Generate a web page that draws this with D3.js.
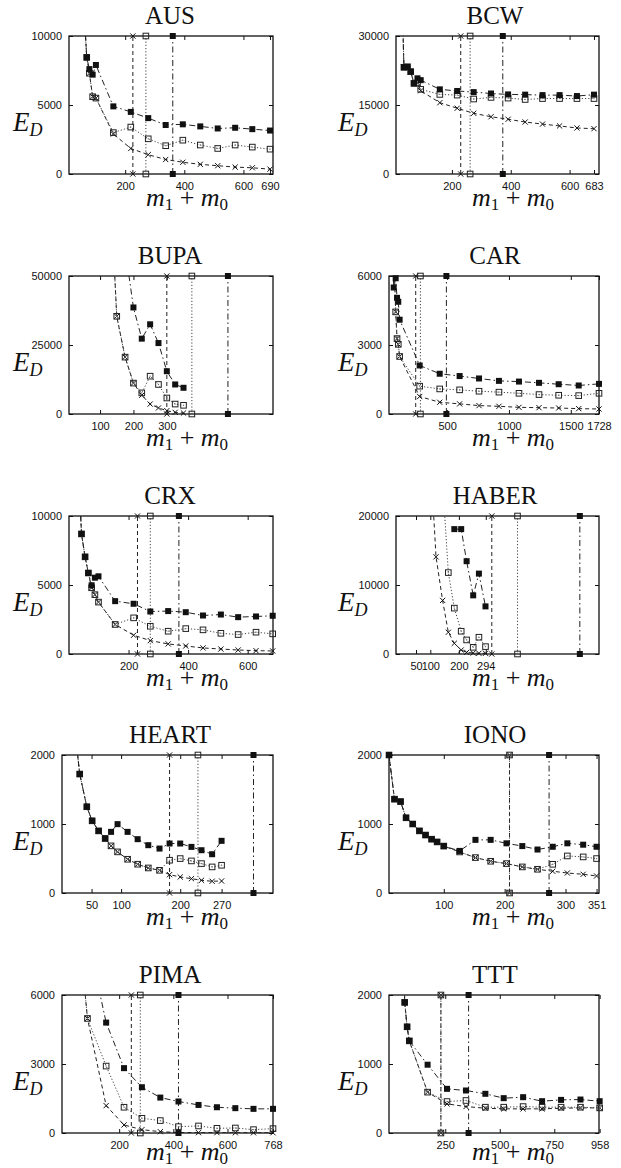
<!DOCTYPE html>
<html>
<head>
<meta charset="utf-8">
<script src="https://cdn.jsdelivr.net/npm/d3@7/dist/d3.min.js"></script>
<style>
  body { margin: 0; background: #fff; }
  .tick text { font-family: "Liberation Sans", Arial, sans-serif; font-size: 11px; fill: #111; }
  .title { font-family: "Liberation Serif", "Times New Roman", serif; font-size: 25px; fill: #111; }
  .mathlbl { font-family: "Liberation Serif", "Times New Roman", serif; fill: #111; }
</style>
</head>
<body>
<svg id="chart" width="621" height="1168"></svg>
<script>
// ---- data (m1+m0 on x, E_D on y); null = no point for that series
// cuts = [cross, open, filled] vertical line positions

const ausX      = [55, 70, 79, 90, 101, 160, 219, 278, 337, 395, 454, 513, 572, 630, 690];
const ausFilled = [14000, 8450, 7600, 7200, 7900, 4900, 4500, 4050, 3550, 3600, 3450, 3300, 3350, 3250, 3150];
const ausOpen   = [14000, 8450, 7300, 5600, 5500, 3000, 3400, 2550, 2050, 2450, 2100, 1850, 2100, 1950, 1800];
const ausCross  = [14000, 8450, 7300, 5600, 5500, 2900, 1850, 1400, 1050, 850, 700, 600, 500, 450, 350];
const ausCuts   = [226, 270, 361];
const ausXTicks = [200, 400, 600, 690];

const bcwX      = [30, 37, 49, 60, 71, 83, 94, 159, 218, 274, 333, 391, 449, 508, 566, 625, 683];
const bcwFilled = [40000, 23200, 23300, 22250, 19700, 20800, 20400, 18400, 18050, 17800, 17500, 17300, 17250, 17150, 17150, 16950, 17250];
const bcwOpen   = [40000, 23200, 23300, 22250, 19700, 19800, 18400, 17300, 17150, 16300, 16650, 16500, 16200, 16400, 16400, 16400, 16400];
const bcwCross  = [40000, 23200, 23300, 22250, 19700, 19800, 18100, 15500, 14300, 13200, 12450, 11900, 11300, 10850, 10450, 10000, 9850];
const bcwCuts   = [230, 262, 373];
const bcwXTicks = [200, 400, 600, 683];

const bupaX      = [140, 150, 175, 200, 225, 250, 275, 300, 325, 350];
const bupaFilled = [null, null, 60000, 38600, 27300, 32500, 25700, 15500, 10700, 9500];
const bupaOpen   = [60000, 35400, 20600, 11200, 7650, 13700, 10700, 5800, 3600, 3150];
const bupaCross  = [60000, 35400, 20600, 11200, 6800, 3600, 2200, 1200, 600, 360];
const bupaCuts   = [300, 375, 483];
const bupaXTicks = [100, 200, 300];

const carX      = [60, 68, 84, 95, 105, 116, 278, 440, 601, 758, 919, 1081, 1243, 1402, 1564, 1728];
const carFilled = [7000, 5500, 5900, 5050, 4880, 4100, 2110, 1750, 1650, 1545, 1440, 1410, 1355, 1295, 1240, 1310];
const carOpen   = [null, 7000, 4440, 3280, 3030, 2500, 1210, 1090, 1050, 990, 950, 900, 845, 815, 800, 900];
const carCross  = [null, 7000, 4440, 3280, 3030, 2500, 760, 510, 440, 365, 335, 290, 275, 260, 233, 218];
const carCuts   = [246, 284, 494];
const carXTicks = [500, 1000, 1500, 1728];

const crxX      = [35, 42, 54, 65, 76, 87, 99, 155, 217, 273, 333, 392, 450, 510, 568, 628, 684];
const crxFilled = [12000, 8700, 7040, 5870, 4980, 5530, 5630, 3830, 3640, 3080, 3110, 3030, 2790, 2860, 2670, 2720, 2770];
const crxOpen   = [12000, 8700, 7040, 5870, 4800, 4300, 3760, 2140, 2620, 2010, 1650, 1840, 1750, 1500, 1410, 1580, 1460];
const crxCross  = [12000, 8700, 7040, 5870, 4800, 4300, 3760, 2140, 1360, 970, 730, 580, 440, 360, 290, 240, 220];
const crxCuts   = [230, 273, 369];
const crxXTicks = [200, 400, 600];

const haberX      = [105, 120, 143, 163, 184, 208, 227, 250, 270, 293];
const haberFilled = [null, null, null, null, 18100, 18100, 13450, 8500, 11650, 6900];
const haberOpen   = [null, null, 25000, 11800, 6650, 3300, 2040, 970, 2430, 1070];
const haberCross  = [25000, 14080, 7770, 3150, 1550, 580, 240, 150, 100, 100];
const haberCuts   = [315, 405, 623];
const haberXTicks = [50, 100, 200, 294];

const heartX      = [20, 30, 42, 51, 62, 73, 83, 94, 111, 128, 146, 165, 182, 200, 219, 236, 254, 270];
const heartFilled = [2500, 1724, 1250, 1046, 900, 790, 886, 998, 886, 780, 693, 644, 717, 717, 668, 620, 562, 756];
const heartOpen   = [2500, 1724, 1250, 1046, 900, 790, 683, 596, 489, 417, 363, 329, 475, 499, 465, 426, 378, 402];
const heartCross  = [2500, 1724, 1250, 1046, 900, 790, 683, 596, 489, 417, 363, 329, 266, 232, 208, 184, 170, 174];
const heartCuts   = [182, 230, 324];
const heartXTicks = [50, 100, 200, 270];

const ionoX      = [10, 19, 29, 38, 49, 60, 70, 80, 89, 100, 126, 152, 177, 203, 229, 254, 279, 303, 329, 351];
const ionoFilled = [2000, 1360, 1325, 1090, 1000, 900, 840, 780, 740, 680, 610, 770, 770, 720, 680, 630, 670, 720, 700, 670];
const ionoOpen   = [2000, 1360, 1325, 1090, 1000, 900, 840, 780, 740, 680, 595, 513, 460, 426, 378, 344, 416, 537, 523, 499];
const ionoCross  = [2000, 1360, 1325, 1090, 1000, 900, 840, 780, 740, 680, 595, 513, 460, 426, 378, 344, 315, 290, 271, 247];
const ionoCuts   = [208, 208, 273];
const ionoXTicks = [100, 200, 300, 351];

const pimaX      = [70, 83, 152, 218, 284, 352, 419, 493, 561, 629, 696, 768];
const pimaFilled = [null, 8560, 4800, 2820, 1990, 1540, 1370, 1220, 1120, 1080, 1050, 1050];
const pimaOpen   = [6600, 4980, 2910, 1120, 640, 540, 277, 306, 204, 218, 146, 190];
const pimaCross  = [6600, 4980, 1190, 350, 146, 58, 20, 15, 15, 10, 10, 10];
const pimaCuts   = [245, 278, 419];
const pimaXTicks = [200, 400, 600, 768];

const tttX      = [60, 64, 75, 85, 169, 258, 345, 434, 518, 607, 694, 781, 870, 958];
const tttFilled = [2500, 1893, 1539, 1335, 990, 640, 616, 568, 505, 519, 461, 480, 485, 461];
const tttOpen   = [2500, 1893, 1539, 1335, 592, 456, 471, 374, 374, 383, 374, 374, 374, 364];
const tttCross  = [2500, 1893, 1539, 1335, 592, 422, 383, 359, 350, 350, 350, 359, 364, 364];
const tttCuts   = [230, 230, 357];
const tttXTicks = [250, 500, 750, 958];

// ---- layout
const panels = [
  { name: "AUS",   col: 0, top: 36,  left: 69,  yMax: 10000, xDomain: [10, 700],  x: ausX,   s: [ausCross, ausOpen, ausFilled],       cuts: ausCuts,   xt: ausXTicks },
  { name: "BCW",   col: 1, top: 36,  left: 396, yMax: 30000, xDomain: [10, 700],  x: bcwX,   s: [bcwCross, bcwOpen, bcwFilled],       cuts: bcwCuts,   xt: bcwXTicks },
  { name: "BUPA",  col: 0, top: 276, left: 69,  yMax: 50000, xDomain: [7, 618],   x: bupaX,  s: [bupaCross, bupaOpen, bupaFilled],    cuts: bupaCuts,  xt: bupaXTicks },
  { name: "CAR",   col: 1, top: 276, left: 389, yMax: 6000,  xDomain: [30, 1728], x: carX,   s: [carCross, carOpen, carFilled],       cuts: carCuts,   xt: carXTicks },
  { name: "CRX",   col: 0, top: 516, left: 69,  yMax: 10000, xDomain: [0, 685],   x: crxX,   s: [crxCross, crxOpen, crxFilled],       cuts: crxCuts,   xt: crxXTicks },
  { name: "HABER", col: 1, top: 516, left: 396, yMax: 20000, xDomain: [-20, 690], x: haberX, s: [haberCross, haberOpen, haberFilled], cuts: haberCuts, xt: haberXTicks },
  { name: "HEART", col: 0, top: 755, left: 62,  yMax: 2000,  xDomain: [0, 357],   x: heartX, s: [heartCross, heartOpen, heartFilled], cuts: heartCuts, xt: heartXTicks },
  { name: "IONO",  col: 1, top: 755, left: 389, yMax: 2000,  xDomain: [10, 355],  x: ionoX,  s: [ionoCross, ionoOpen, ionoFilled],    cuts: ionoCuts,  xt: ionoXTicks },
  { name: "PIMA",  col: 0, top: 995, left: 62,  yMax: 6000,  xDomain: [-11, 768], x: pimaX,  s: [pimaCross, pimaOpen, pimaFilled],    cuts: pimaCuts,  xt: pimaXTicks },
  { name: "TTT",   col: 1, top: 995, left: 389, yMax: 2000,  xDomain: [-8, 955],  x: tttX,   s: [tttCross, tttOpen, tttFilled],       cuts: tttCuts,   xt: tttXTicks }
];

const rightEdge = [273, 599];
const boxH = 138;
const titleX = [170, 495];
const xlabX = [187, 513];
const ylabX = [13, 338];

// cross: dashed, open: dotted, filled: dash-dot
const dashes = ["4,3", "1.2,2", "6,3,1.5,3"];
const lineCol = ["#222", "#444", "#222"];

const svg = d3.select("#chart");

function marker(g, kind, cx, cy) {
  if (kind === 0) {
    g.append("path")
      .attr("d", `M${cx - 2.6},${cy - 2.6}L${cx + 2.6},${cy + 2.6}M${cx - 2.6},${cy + 2.6}L${cx + 2.6},${cy - 2.6}`)
      .attr("stroke", "#111").attr("stroke-width", 1).attr("fill", "none");
  } else if (kind === 1) {
    g.append("rect")
      .attr("x", cx - 2.8).attr("y", cy - 2.8).attr("width", 5.6).attr("height", 5.6)
      .attr("fill", "none").attr("stroke", "#222").attr("stroke-width", 1);
    g.append("rect")
      .attr("x", cx - 0.6).attr("y", cy - 0.6).attr("width", 1.2).attr("height", 1.2)
      .attr("fill", "#777");
  } else {
    g.append("rect")
      .attr("x", cx - 3).attr("y", cy - 3).attr("width", 6).attr("height", 6)
      .attr("fill", "#111");
  }
}

panels.forEach((p, pi) => {
  const right = rightEdge[p.col];
  const bottom = p.top + boxH;
  const x = d3.scaleLinear().domain(p.xDomain).range([p.left, right]);
  const y = d3.scaleLinear().domain([0, p.yMax]).range([bottom, p.top]);

  const g = svg.append("g");
  const clipId = "clip" + pi;
  g.append("clipPath").attr("id", clipId)
    .append("rect").attr("x", p.left).attr("y", p.top)
    .attr("width", right - p.left).attr("height", boxH);

  // axes, gnuplot style: ticks inward on all four sides
  g.append("g").attr("transform", `translate(0,${bottom})`)
    .call(d3.axisBottom(x).tickValues(p.xt).tickSize(-4).tickPadding(8).tickFormat(d3.format("d")));
  g.append("g").attr("transform", `translate(0,${p.top})`)
    .call(d3.axisTop(x).tickValues(p.xt).tickSize(-4).tickFormat(""));
  g.append("g").attr("transform", `translate(${p.left},0)`)
    .call(d3.axisLeft(y).tickValues([0, p.yMax / 2, p.yMax]).tickSize(-4).tickPadding(7).tickFormat(d3.format("d")));
  g.append("g").attr("transform", `translate(${right},0)`)
    .call(d3.axisRight(y).tickValues([0, p.yMax / 2, p.yMax]).tickSize(-4).tickFormat(""));
  g.selectAll(".domain").remove();
  g.selectAll(".tick line").attr("stroke", "#111");

  // series lines
  const plot = g.append("g").attr("clip-path", `url(#${clipId})`);
  p.s.forEach((vals, k) => {
    const pts = p.x.map((xv, i) => ({ x: xv, y: vals[i] }));
    const line = d3.line().defined(d => d.y != null).x(d => x(d.x)).y(d => y(d.y));
    plot.append("path").datum(pts)
      .attr("d", line).attr("fill", "none")
      .attr("stroke", lineCol[k]).attr("stroke-width", 1)
      .attr("stroke-dasharray", dashes[k]);
    // vertical cut line
    plot.append("line")
      .attr("x1", x(p.cuts[k])).attr("x2", x(p.cuts[k]))
      .attr("y1", y(0)).attr("y2", y(p.yMax))
      .attr("stroke", lineCol[k]).attr("stroke-width", 1)
      .attr("stroke-dasharray", dashes[k]);
  });

  // box
  g.append("rect").attr("x", p.left).attr("y", p.top)
    .attr("width", right - p.left).attr("height", boxH)
    .attr("fill", "none").attr("stroke", "#111").attr("stroke-width", 1.3);

  // markers
  p.s.forEach((vals, k) => {
    p.x.forEach((xv, i) => {
      const v = vals[i];
      if (v == null || v > p.yMax) return;
      marker(g, k, x(xv), y(v));
    });
    marker(g, k, x(p.cuts[k]), y(0));
    marker(g, k, x(p.cuts[k]), y(p.yMax));
  });

  // title
  g.append("text").attr("class", "title")
    .attr("x", titleX[p.col]).attr("y", p.top - 12)
    .attr("text-anchor", "middle").text(p.name);

  // y label E_D
  const yl = g.append("text").attr("class", "mathlbl")
    .attr("x", ylabX[p.col]).attr("y", p.top + 95);
  yl.append("tspan").attr("font-style", "italic").attr("font-size", 27).text("E");
  yl.append("tspan").attr("font-style", "italic").attr("font-size", 18).attr("dy", 5).text("D");

  // x label m1 + m0
  const xl = g.append("text").attr("class", "mathlbl")
    .attr("x", xlabX[p.col]).attr("y", bottom + (p.top > 900 ? 27 : 32)).attr("text-anchor", "middle");
  xl.append("tspan").attr("font-style", "italic").attr("font-size", 26).text("m");
  xl.append("tspan").attr("font-size", 17).attr("dy", 4).text("1");
  xl.append("tspan").attr("font-size", 26).attr("dy", -4).text(" + ");
  xl.append("tspan").attr("font-style", "italic").attr("font-size", 26).text("m");
  xl.append("tspan").attr("font-size", 17).attr("dy", 4).text("0");
});
</script>
</body>
</html>
